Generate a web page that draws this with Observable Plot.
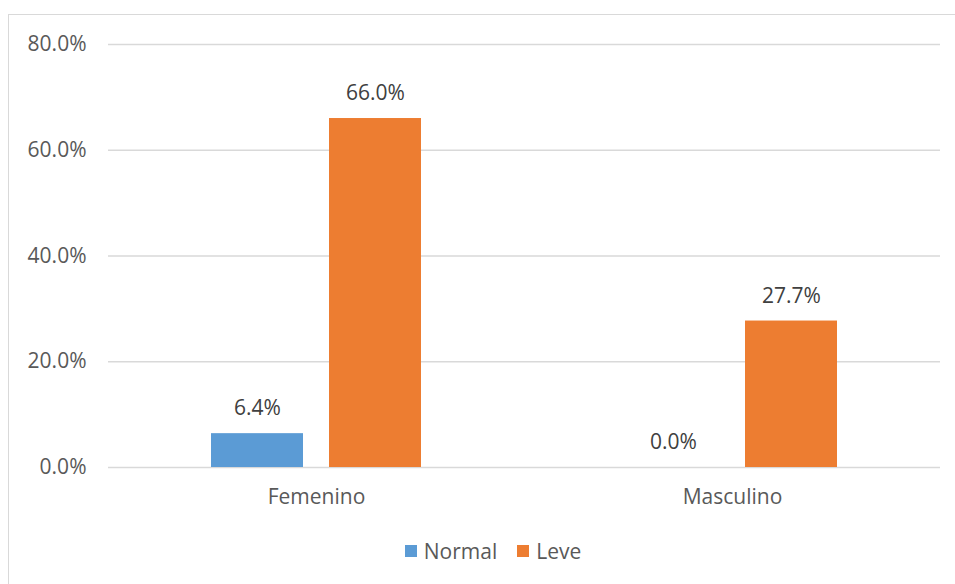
<!DOCTYPE html>
<html>
<head>
<meta charset="utf-8">
<script src="https://cdn.jsdelivr.net/npm/d3@7"></script>
<script src="https://cdn.jsdelivr.net/npm/@observablehq/plot@0.6"></script>
<style>
  html, body { margin: 0; padding: 0; background: #fff; overflow: hidden; }
  body { width: 955px; height: 584px; position: relative; font-family: "Open Sans", sans-serif; }
  #frame { position: absolute; left: 8px; top: 14px; width: 980px; height: 620px; border: 1.5px solid #d9d9d9; box-sizing: border-box; }
  #chart { position: absolute; left: 0; top: 0; }
  #legend { position: absolute; top: 537px; left: 0; width: 955px; display: flex; justify-content: center; gap: 20px; font-size: 21px; color: #595959; padding-left: 31px; box-sizing: border-box; }
  .item { display: flex; align-items: center; gap: 7px; }
  .sw { width: 12px; height: 12px; display: inline-block; }
</style>
</head>
<body>
<div id="frame"></div>
<div id="chart"></div>
<div id="legend"></div>
<script>
// Categories (sex) and the two severity series, as percentages
const sexes = ["Femenino", "Masculino"];
const seriesNames = ["Normal", "Leve"];
const normalValues = [6.4, 0.0];
const leveValues = [66.0, 27.7];
const seriesColors = ["#5b9bd5", "#ed7d31"];
const yTicks = [0, 20, 40, 60, 80];

const rows = [];
sexes.forEach((s, i) => {
  rows.push({sex: s, series: "Normal", value: normalValues[i]});
  rows.push({sex: s, series: "Leve", value: leveValues[i]});
});

const fmt = v => d3.format(".1f")(v) + "%";

const chart = Plot.plot({
  width: 955,
  height: 520,
  marginLeft: 108,
  marginRight: 15,
  marginTop: 44,
  marginBottom: 53,
  style: {fontFamily: "Open Sans, sans-serif", fontSize: "21px", color: "#595959", background: "transparent", overflow: "visible"},
  fx: {domain: sexes, padding: 0, label: null, axis: "bottom", tickSize: 0, tickPadding: 22},
  x: {domain: seriesNames, paddingInner: 0.218, paddingOuter: 0.857, axis: null},
  y: {domain: [0, 80], ticks: yTicks, tickFormat: fmt, tickSize: 0, tickPadding: 22, label: null},
  color: {domain: seriesNames, range: seriesColors},
  marks: [
    Plot.ruleY(yTicks, {stroke: "#d9d9d9", strokeWidth: 1.5}),
    Plot.barY(rows, {fx: "sex", x: "series", y: "value", fill: "series"}),
    Plot.text(rows, {fx: "sex", x: "series", y: "value", text: d => fmt(d.value), dy: -25, fill: "#404040", lineAnchor: "middle", fontSize: 21})
  ]
});
document.getElementById("chart").appendChild(chart);

// Legend built from the same series arrays
const legend = document.getElementById("legend");
seriesNames.forEach((name, i) => {
  const item = document.createElement("span");
  item.className = "item";
  const sw = document.createElement("span");
  sw.className = "sw";
  sw.style.background = seriesColors[i];
  item.appendChild(sw);
  item.appendChild(document.createTextNode(name));
  legend.appendChild(item);
});
</script>
</body>
</html>
